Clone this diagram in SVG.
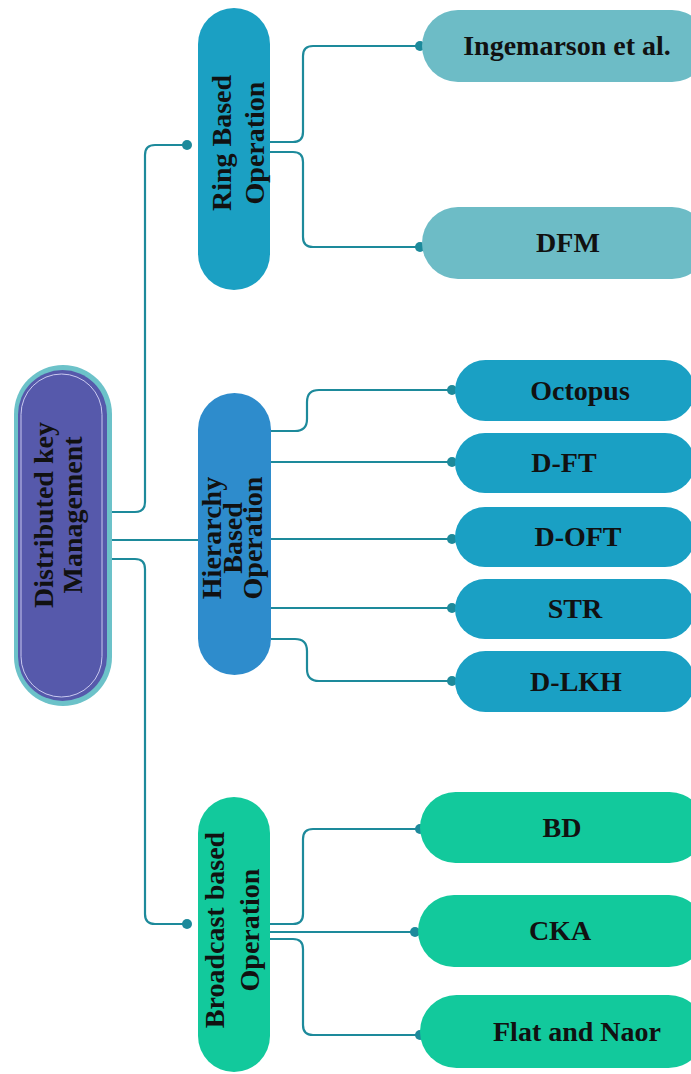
<svg xmlns="http://www.w3.org/2000/svg" width="691" height="1074" viewBox="0 0 691 1074">
  <style>
    .lbl { font-family: "Liberation Serif", "Times New Roman", serif; font-weight: bold; font-size: 28px; fill: #111; text-anchor: middle; }
    .wire { fill: none; stroke: #1d8a9b; stroke-width: 2.2; }
    .dot { fill: #1d8a9b; }
    .ring { fill: #1ba0c3; }
    .ringLeaf { fill: #6dbcc6; }
    .hier { fill: #2e8ccc; }
    .hierLeaf { fill: #1aa0c4; }
    .bcast { fill: #12c99c; }
  </style>
  <rect width="691" height="1074" fill="#ffffff"/>

  <!-- connectors -->
  <g id="connectors">
    <path class="wire" d="M112,512 H135 Q145,512 145,502 V155 Q145,145 155,145 H187"/>
    <path class="wire" d="M112,540 H198"/>
    <path class="wire" d="M112,559 H135 Q145,559 145,569 V914 Q145,924 155,924 H187"/>

    <path class="wire" d="M270,142 H293 Q303,142 303,132 V56 Q303,46 313,46 H420"/>
    <path class="wire" d="M270,152 H293 Q303,152 303,162 V237 Q303,247 313,247 H420"/>

    <path class="wire" d="M271,431 H295 Q307,431 307,419 V402 Q307,390 319,390 H452"/>
    <path class="wire" d="M271,462 H452"/>
    <path class="wire" d="M271,539 H452"/>
    <path class="wire" d="M271,608 H452"/>
    <path class="wire" d="M271,639 H295 Q307,639 307,651 V669 Q307,681 319,681 H452"/>

    <path class="wire" d="M270,924 H293 Q303,924 303,914 V839 Q303,829 313,829 H420"/>
    <path class="wire" d="M270,932 H415"/>
    <path class="wire" d="M270,939 H293 Q303,939 303,949 V1025 Q303,1035 313,1035 H420"/>

    <circle class="dot" cx="187" cy="145" r="5"/>
    <circle class="dot" cx="187" cy="924" r="5"/>
    <circle class="dot" cx="420" cy="46" r="5"/>
    <circle class="dot" cx="420" cy="247" r="5"/>
    <circle class="dot" cx="452" cy="390" r="5"/>
    <circle class="dot" cx="452" cy="462" r="5"/>
    <circle class="dot" cx="452" cy="539" r="5"/>
    <circle class="dot" cx="452" cy="608" r="5"/>
    <circle class="dot" cx="452" cy="681" r="5"/>
    <circle class="dot" cx="420" cy="829" r="5"/>
    <circle class="dot" cx="415" cy="932" r="5"/>
    <circle class="dot" cx="420" cy="1035" r="5"/>
  </g>

  <!-- root -->
  <g id="root">
    <rect x="14" y="365" width="98" height="341" rx="49" fill="#6cc2c9"/>
    <rect x="18" y="370" width="89" height="331" rx="44.5" fill="#5659ab"/>
    <rect x="21" y="374" width="81" height="323" rx="40.5" fill="none" stroke="#c9c9f0" stroke-width="1"/>
    <text class="lbl" transform="translate(53,515) rotate(-90)">Distributed key</text>
    <text class="lbl" transform="translate(82,515) rotate(-90)">Management</text>
  </g>

  <!-- ring based branch -->
  <g id="ring-based">
    <rect class="ring" x="198" y="8" width="72" height="282" rx="36"/>
    <text class="lbl" transform="translate(231,143) rotate(-90)">Ring Based</text>
    <text class="lbl" transform="translate(264,143) rotate(-90)">Operation</text>
  </g>
  <g id="ingemarson">
    <rect class="ringLeaf" x="422" y="10" width="286" height="72" rx="36"/>
    <text class="lbl" x="567" y="55">Ingemarson et al.</text>
  </g>
  <g id="dfm">
    <rect class="ringLeaf" x="422" y="207" width="286" height="72" rx="36"/>
    <text class="lbl" x="568" y="252">DFM</text>
  </g>

  <!-- hierarchy based branch -->
  <g id="hierarchy-based">
    <rect class="hier" x="198" y="393" width="73" height="282" rx="36.5"/>
    <text class="lbl" transform="translate(221,538) rotate(-90)">Hierarchy</text>
    <text class="lbl" transform="translate(242,538) rotate(-90)">Based</text>
    <text class="lbl" transform="translate(262,538) rotate(-90)">Operation</text>
  </g>
  <g id="octopus">
    <rect class="hierLeaf" x="455" y="360" width="240" height="61" rx="30.5"/>
    <text class="lbl" x="580" y="399.5">Octopus</text>
  </g>
  <g id="d-ft">
    <rect class="hierLeaf" x="455" y="433" width="240" height="60" rx="30"/>
    <text class="lbl" x="564" y="472">D-FT</text>
  </g>
  <g id="d-oft">
    <rect class="hierLeaf" x="455" y="507" width="240" height="60" rx="30"/>
    <text class="lbl" x="578" y="546">D-OFT</text>
  </g>
  <g id="str">
    <rect class="hierLeaf" x="455" y="579" width="240" height="60" rx="30"/>
    <text class="lbl" x="575" y="618">STR</text>
  </g>
  <g id="d-lkh">
    <rect class="hierLeaf" x="455" y="651" width="240" height="61" rx="30.5"/>
    <text class="lbl" x="576" y="690.5">D-LKH</text>
  </g>

  <!-- broadcast based branch -->
  <g id="broadcast-based">
    <rect class="bcast" x="198" y="797" width="72" height="275" rx="36"/>
    <text class="lbl" transform="translate(224,930) rotate(-90)">Broadcast based</text>
    <text class="lbl" transform="translate(259,930) rotate(-90)">Operation</text>
  </g>
  <g id="bd">
    <rect class="bcast" x="420" y="792" width="285" height="71" rx="35.5"/>
    <text class="lbl" x="562" y="837">BD</text>
  </g>
  <g id="cka">
    <rect class="bcast" x="418" y="895" width="287" height="72" rx="36"/>
    <text class="lbl" x="560" y="940">CKA</text>
  </g>
  <g id="flat-naor">
    <rect class="bcast" x="420" y="995" width="285" height="73" rx="36.5"/>
    <text class="lbl" x="577" y="1041">Flat and Naor</text>
  </g>
</svg>
